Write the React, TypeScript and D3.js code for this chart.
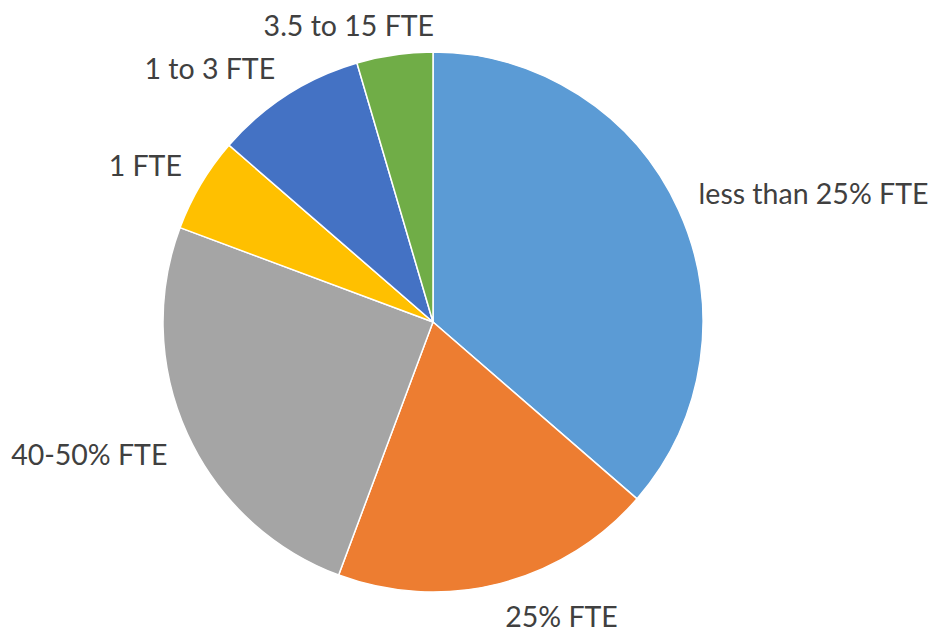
import React, { useEffect, useRef } from 'react';
import * as d3 from 'd3';

// Slice labels and counts (clockwise from 12 o'clock)
const categories = [
  'less than 25% FTE',
  '25% FTE',
  '40-50% FTE',
  '1 FTE',
  '1 to 3 FTE',
  '3.5 to 15 FTE',
];
const counts = [32, 17, 22, 5, 8, 4];
const colors = ['#5B9BD5', '#ED7D31', '#A5A5A5', '#FFC000', '#4472C4', '#70AD47'];

const App = () => {
  const svgRef = useRef<SVGSVGElement>(null);

  useEffect(() => {
    const svgEl = svgRef.current;
    if (!svgEl) return;
    d3.select(svgEl).selectAll('*').remove();

    const width = 936;
    const height = 633;
    const cx = 433;
    const cy = 322;
    const radius = 270;
    const labelRadius = 292;

    const data = categories.map((c, i) => ({ label: c, value: counts[i], color: colors[i] }));

    const pie = d3.pie<any>().value(d => d.value).sort(null);
    const arc = d3.arc<any>().innerRadius(0).outerRadius(radius);

    const svg = d3.select(svgEl).attr('width', width).attr('height', height);
    const g = svg.append('g').attr('transform', `translate(${cx},${cy})`);

    const arcs = pie(data);

    g.selectAll('path')
      .data(arcs)
      .join('path')
      .attr('d', arc)
      .attr('fill', d => d.data.color)
      .attr('stroke', '#fff')
      .attr('stroke-width', 1.5);

    // Labels: text box corner sits on the mid-angle ray, outside the pie
    const fontSize = 28.5;
    const labels = g.selectAll('text')
      .data(arcs)
      .join('text')
      .attr('font-family', 'Lato, "Open Sans", sans-serif')
      .attr('font-size', fontSize)
      .attr('fill', '#404040')
      .text(d => d.data.label);

    labels.each(function (d) {
      const a = (d.startAngle + d.endAngle) / 2;
      const s = Math.sin(a);
      const c = Math.cos(a);
      let x = labelRadius * s;
      let y = -labelRadius * c;
      const node = this as SVGTextElement;
      const w = node.getComputedTextLength();
      // near-top labels mostly sit left of the ray point
      if (Math.abs(s) < 0.2) {
        x = x - w * 0.75;
      } else if (s < 0) {
        x = x - w;
      }
      // top half: baseline just below the point; bottom half: box top on the point
      if (c > 0) y = y + 3;
      else y = y + fontSize * 0.7 + 2;
      d3.select(node).attr('x', x).attr('y', y);
    });
  }, []);

  return (
    <div style={{ position: 'absolute', left: 0, top: 0 }}>
      <svg ref={svgRef}></svg>
    </div>
  );
};

export default App;
